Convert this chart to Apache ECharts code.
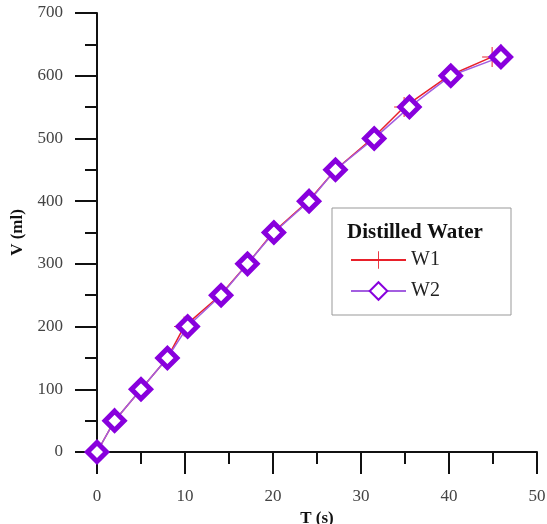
<!DOCTYPE html>
<html lang="en">
<head>
    <meta charset="UTF-8">
    <title>Distilled Water</title>
    <script src="https://cdn.jsdelivr.net/npm/echarts@6/dist/echarts.min.js"></script>
    <style>
        body { margin: 0; background: #fff; }
    </style>
</head>
<body>
    <div id="main" style="width: 547px; height: 524px;"></div>

    <script>
        // data (T in s, V in ml)
        var w1T = [0, 2, 5, 8, 9.9, 14, 17.1, 20, 24, 27.1, 31.3, 34.9, 40, 44.9];
        var w1V = [0, 50, 100, 150, 200, 250, 300, 350, 400, 450, 500, 550, 600, 630];
        var w2T = [0, 2, 5, 8, 10.3, 14.1, 17.1, 20.1, 24.1, 27.1, 31.5, 35.5, 40.2, 45.9];
        var w2V = [0, 50, 100, 150, 200, 250, 300, 350, 400, 450, 500, 550, 600, 630];

        function pairs(xs, ys) {
            return xs.map(function (x, i) { return [x, ys[i]]; });
        }

        var serif = '"Liberation Serif", "DejaVu Serif", serif';
        var crossPath = 'path://M9.5,0h1v20h-1z M0,9.5h20v1h-20z';

        var mycharts = echarts.init(document.getElementById('main'));

        var option = {
            animation: false,
            grid: { left: 97, right: 10, top: 13, bottom: 72, containLabel: false, outerBoundsMode: 'none' },
            xAxis: {
                type: 'value',
                min: 0, max: 50, interval: 10,
                name: 'T (s)',
                nameLocation: 'middle',
                nameGap: 53,
                nameTextStyle: { fontFamily: serif, fontSize: 17, fontWeight: 'bold', color: '#111' },
                axisLine: { lineStyle: { color: '#111', width: 2 } },
                axisTick: { length: 22, lineStyle: { color: '#111', width: 2 } },
                minorTick: { show: true, splitNumber: 2, length: 12, lineStyle: { color: '#111', width: 2 } },
                axisLabel: { fontFamily: serif, fontSize: 17, color: '#444', margin: 36 },
                splitLine: { show: false }
            },
            yAxis: {
                type: 'value',
                min: 0, max: 700, interval: 100,
                name: 'V (ml)',
                nameLocation: 'middle',
                nameGap: 70,
                nameTextStyle: { fontFamily: serif, fontSize: 17, fontWeight: 'bold', color: '#111' },
                axisLine: { show: true, lineStyle: { color: '#111', width: 2 } },
                axisTick: { show: true, length: 22, lineStyle: { color: '#111', width: 2 } },
                minorTick: { show: true, splitNumber: 2, length: 12, lineStyle: { color: '#111', width: 2 } },
                axisLabel: { fontFamily: serif, fontSize: 17, color: '#444', margin: 34 },
                splitLine: { show: false }
            },
            legend: {
                orient: 'vertical',
                left: 345, top: 245,
                itemWidth: 55, itemHeight: 22, itemGap: 11,
                textStyle: { fontFamily: serif, fontSize: 20, color: '#222' },
                data: ['W1', 'W2']
            },
            graphic: [
                {
                    type: 'rect',
                    shape: { x: 332, y: 208, width: 179, height: 107 },
                    style: { fill: 'none', stroke: '#999', lineWidth: 1 },
                    z: 1
                },
                {
                    type: 'text',
                    x: 347, y: 233,
                    style: {
                        text: 'Distilled Water',
                        font: 'bold 21px ' + serif,
                        fill: '#111',
                        textVerticalAlign: 'middle'
                    },
                    z: 2
                }
            ],
            series: [
                {
                    name: 'W1',
                    type: 'line',
                    data: pairs(w1T, w1V),
                    symbol: crossPath,
                    symbolSize: 20,
                    lineStyle: { color: '#e8202a', width: 1.5 },
                    itemStyle: { color: '#e8202a' },
                    z: 2
                },
                {
                    name: 'W2',
                    type: 'line',
                    data: pairs(w2T, w2V),
                    symbol: 'diamond',
                    symbolSize: 19,
                    lineStyle: { color: '#a35ee0', width: 1.5 },
                    itemStyle: { color: '#fff', borderColor: '#8800dd', borderWidth: 5 },
                    z: 3
                }
            ]
        };

        mycharts.setOption(option);
    </script>
</body>
</html>
